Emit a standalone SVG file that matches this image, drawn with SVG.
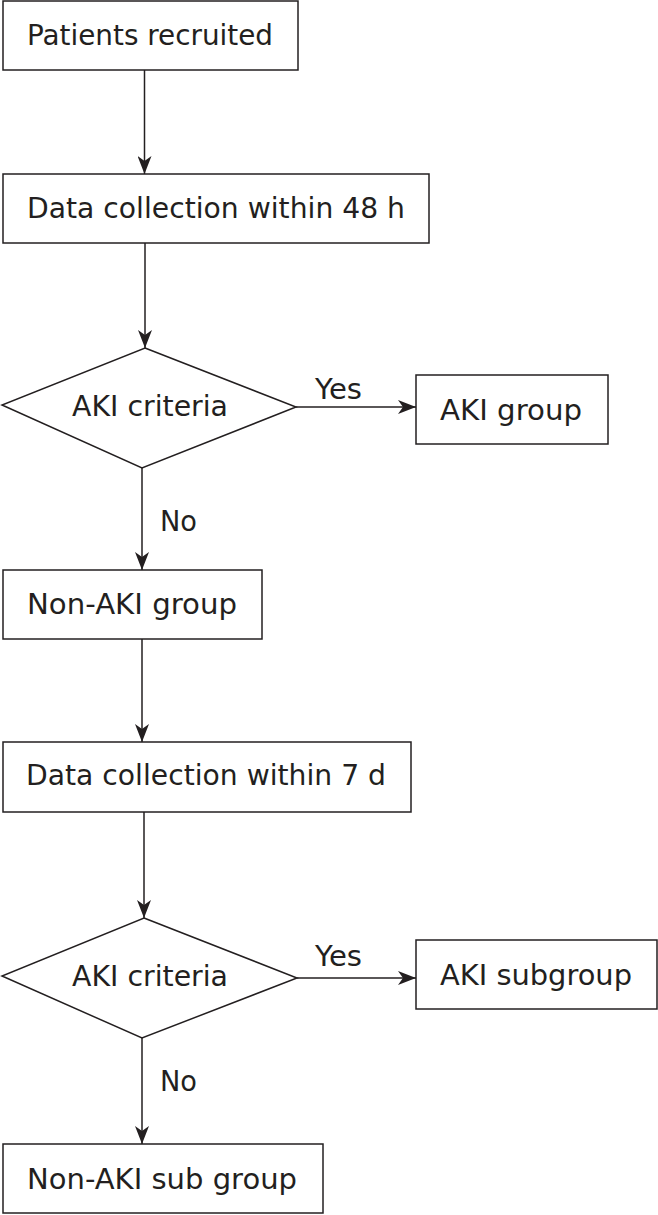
<svg xmlns="http://www.w3.org/2000/svg" width="658" height="1215" viewBox="0 0 658 1215">
<style>
.box{fill:#fff;stroke:#231f20;stroke-width:1.5}
.t{font-family:"DejaVu Sans",Verdana,sans-serif;font-size:29px;fill:#231f20}
.c{stroke:#231f20;stroke-width:1.5;fill:none;marker-end:url(#ah)}
</style>
<defs>
<marker id="ah" markerUnits="userSpaceOnUse" markerWidth="20" markerHeight="14" refX="18" refY="7" orient="auto">
<path d="M0,0 L18,7 L0,14 L5,7 Z" fill="#231f20"/>
</marker>
</defs>
<rect width="658" height="1215" fill="#fff"/>
<g id="connectors">
<line class="c" x1="144.5" y1="70" x2="144.5" y2="174"/>
<line class="c" x1="145" y1="243" x2="145" y2="348"/>
<line class="c" x1="296" y1="407" x2="416" y2="407"/>
<line class="c" x1="142" y1="468" x2="142" y2="570"/>
<line class="c" x1="142" y1="639" x2="142" y2="742"/>
<line class="c" x1="144" y1="812" x2="144" y2="918"/>
<line class="c" x1="297" y1="978" x2="416" y2="978"/>
<line class="c" x1="142" y1="1038" x2="142" y2="1144"/>
<text class="t" x="315" y="399" textLength="47" lengthAdjust="spacingAndGlyphs">Yes</text>
<text class="t" x="160" y="531" textLength="37" lengthAdjust="spacingAndGlyphs">No</text>
<text class="t" x="315" y="966" textLength="47" lengthAdjust="spacingAndGlyphs">Yes</text>
<text class="t" x="160" y="1091" textLength="37" lengthAdjust="spacingAndGlyphs">No</text>
</g>
<g id="n1">
<rect class="box" x="3" y="1" width="295" height="69"/>
<text class="t" x="27" y="45" textLength="246" lengthAdjust="spacingAndGlyphs">Patients recruited</text>
</g>
<g id="n2">
<rect class="box" x="3" y="174" width="426" height="69"/>
<text class="t" x="27" y="218" textLength="378" lengthAdjust="spacingAndGlyphs">Data collection within 48 h</text>
</g>
<g id="d1">
<polygon class="box" points="145,348 296,407 142,468 2,405"/>
<text class="t" x="72" y="416" textLength="156" lengthAdjust="spacingAndGlyphs">AKI criteria</text>
</g>
<g id="n3">
<rect class="box" x="416" y="375" width="192" height="69"/>
<text class="t" x="440" y="420" textLength="142" lengthAdjust="spacingAndGlyphs">AKI group</text>
</g>
<g id="n4">
<rect class="box" x="3" y="570" width="259" height="69"/>
<text class="t" x="27" y="614" textLength="210" lengthAdjust="spacingAndGlyphs">Non-AKI group</text>
</g>
<g id="n5">
<rect class="box" x="3" y="742" width="408" height="70"/>
<text class="t" x="26" y="785" textLength="360" lengthAdjust="spacingAndGlyphs">Data collection within 7 d</text>
</g>
<g id="d2">
<polygon class="box" points="144,918 297,978 142,1038 2,976"/>
<text class="t" x="72" y="986" textLength="156" lengthAdjust="spacingAndGlyphs">AKI criteria</text>
</g>
<g id="n6">
<rect class="box" x="416" y="940" width="241" height="69"/>
<text class="t" x="440" y="985" textLength="192" lengthAdjust="spacingAndGlyphs">AKI subgroup</text>
</g>
<g id="n7">
<rect class="box" x="3" y="1144" width="320" height="69"/>
<text class="t" x="27" y="1189" textLength="270" lengthAdjust="spacingAndGlyphs">Non-AKI sub group</text>
</g>
</svg>
